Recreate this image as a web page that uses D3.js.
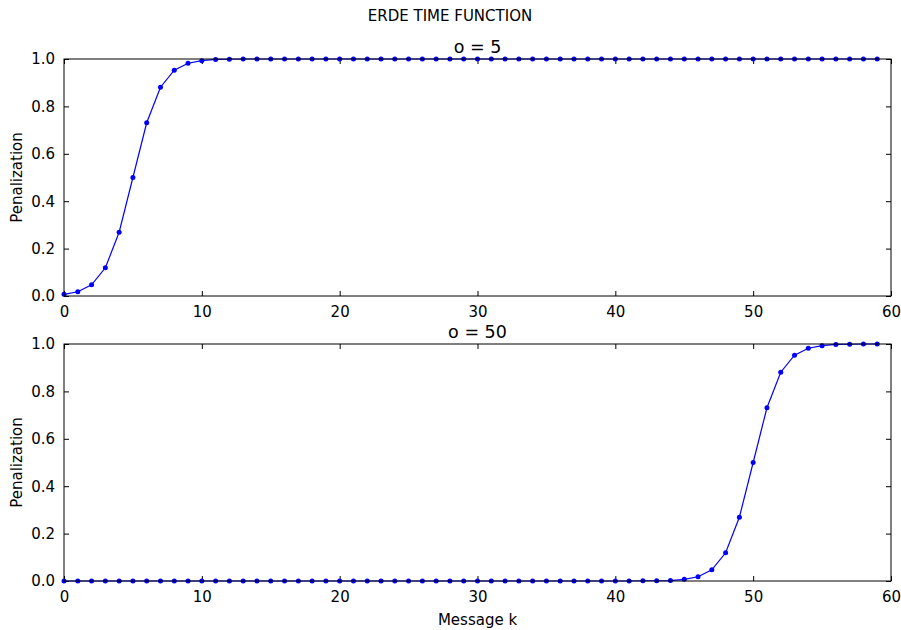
<!DOCTYPE html>
<html>
<head>
<meta charset="utf-8">
<script src="https://cdn.jsdelivr.net/npm/d3@7"></script>
<style>
body { margin: 0; background: #fff; }
svg { font-family: "DejaVu Sans", sans-serif; }
</style>
</head>
<body>
<svg id="chart" width="901" height="630"></svg>
<script>
// message index k = 0..59
var messages = d3.range(0, 60);

// penalization, o = 5
var penaltyO5 = [0.007, 0.018, 0.047, 0.119, 0.269, 0.5, 0.731, 0.881, 0.953, 0.982,
    0.993, 0.998, 0.999, 1, 1, 1, 1, 1, 1, 1,
    1, 1, 1, 1, 1, 1, 1, 1, 1, 1,
    1, 1, 1, 1, 1, 1, 1, 1, 1, 1,
    1, 1, 1, 1, 1, 1, 1, 1, 1, 1,
    1, 1, 1, 1, 1, 1, 1, 1, 1, 1];

// penalization, o = 50
var penaltyO50 = [0, 0, 0, 0, 0, 0, 0, 0, 0, 0,
    0, 0, 0, 0, 0, 0, 0, 0, 0, 0,
    0, 0, 0, 0, 0, 0, 0, 0, 0, 0,
    0, 0, 0, 0, 0, 0, 0, 0, 0, 0,
    0, 0, 0.001, 0.001, 0.002, 0.007, 0.018, 0.047, 0.119, 0.269,
    0.5, 0.731, 0.881, 0.953, 0.982, 0.993, 0.998, 0.999, 1, 1];

var xTicks = [0, 10, 20, 30, 40, 50, 60];
var yTicks = [0, 0.2, 0.4, 0.6, 0.8, 1.0];

var panels = [
    { title: "o = 5", values: penaltyO5, top: 59 },
    { title: "o = 50", values: penaltyO50, top: 344 }
];

var svg = d3.select("#chart");
var left = 64, right = 891, h = 237;
var tickLen = 5;

svg.append("text")
    .attr("x", 450).attr("y", 21)
    .attr("text-anchor", "middle")
    .attr("font-size", 15)
    .text("ERDE TIME FUNCTION");

var drawPanel = function(p)
{
    var xScale = d3.scaleLinear().domain([0, 60]).range([left, right]);
    var yScale = d3.scaleLinear().domain([0, 1]).range([p.top + h, p.top]);
    var g = svg.append("g");

    // ticks inward on all sides
    g.append("g").attr("transform", "translate(0," + (p.top + h) + ")")
        .call(d3.axisBottom(xScale).tickValues(xTicks).tickSize(-tickLen).tickPadding(10).tickFormat(d3.format("d")));
    g.append("g").attr("transform", "translate(0," + p.top + ")")
        .call(d3.axisTop(xScale).tickValues(xTicks).tickSize(-tickLen).tickFormat(""));
    g.append("g").attr("transform", "translate(" + left + ",0)")
        .call(d3.axisLeft(yScale).tickValues(yTicks).tickSize(-tickLen).tickPadding(9).tickFormat(d3.format(".1f")));
    g.append("g").attr("transform", "translate(" + right + ",0)")
        .call(d3.axisRight(yScale).tickValues(yTicks).tickSize(-tickLen).tickFormat(""));

    g.selectAll(".domain").remove();
    g.selectAll(".tick line").attr("stroke", "#000");
    g.selectAll(".tick text").attr("font-size", 15).attr("fill", "#000")
        .attr("font-family", "DejaVu Sans, sans-serif");

    var line = d3.line()
        .x(function(d, i){ return xScale(messages[i]); })
        .y(function(d){ return yScale(d); });

    g.append("path").datum(p.values)
        .attr("d", line)
        .attr("fill", "none")
        .attr("stroke", "#0000ff")
        .attr("stroke-width", 1.2);

    g.selectAll("circle").data(p.values).enter().append("circle")
        .attr("cx", function(d, i){ return xScale(messages[i]); })
        .attr("cy", function(d){ return yScale(d); })
        .attr("r", 2.5)
        .attr("fill", "#0000ff");

    g.append("rect")
        .attr("x", left).attr("y", p.top)
        .attr("width", right - left).attr("height", h)
        .attr("fill", "none").attr("stroke", "#000").attr("stroke-width", 1);

    g.append("text")
        .attr("x", (left + right) / 2).attr("y", p.top - 6)
        .attr("text-anchor", "middle")
        .attr("font-size", 17.5)
        .text(p.title);

    g.append("text")
        .attr("transform", "translate(22," + (p.top + h / 2) + ") rotate(-90)")
        .attr("text-anchor", "middle")
        .attr("font-size", 15)
        .text("Penalization");
}

panels.forEach(drawPanel);

svg.append("text")
    .attr("x", (left + right) / 2).attr("y", 625)
    .attr("text-anchor", "middle")
    .attr("font-size", 15)
    .text("Message k");
</script>
</body>
</html>
